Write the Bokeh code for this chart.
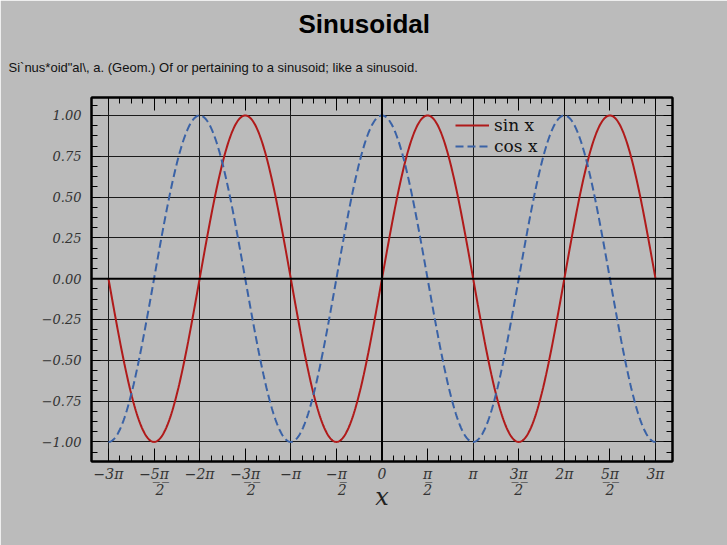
import numpy as np
from bokeh.plotting import figure
from bokeh.models import (FixedTicker, LinearAxis, Span, Title, Legend, LegendItem,
                          Range1d, Grid)
from bokeh.embed import file_html
from bokeh.resources import INLINE

PI = np.pi
U = "\u0332"  # combining low line -> fraction bar under numerator
FS = "\u2007\u2009"  # spacer to align denominator under numerator when a minus leads

# ---- data ----
x = np.linspace(-3 * PI, 3 * PI, 721)
sin_y = np.sin(x)
cos_y = np.cos(x)

x_tick_values = [k * PI / 2 for k in range(-6, 7)]
x_tick_labels = ["\u22123\u03c0",
                 "\u22125" + U + "\u03c0" + U + "\n" + FS + "2",
                 "\u22122\u03c0",
                 "\u22123" + U + "\u03c0" + U + "\n" + FS + "2",
                 "\u2212\u03c0",
                 "\u2212\u03c0" + U + "\n" + FS + "2",
                 "0",
                 "\u03c0" + U + "\n2",
                 "\u03c0",
                 "3" + U + "\u03c0" + U + "\n2",
                 "2\u03c0",
                 "5" + U + "\u03c0" + U + "\n2",
                 "3\u03c0"]
x_grid_values = [k * PI for k in range(-3, 4)]
x_minor_values = [k * PI / 8 for k in range(-24, 25)]

y_tick_values = [-1.0, -0.75, -0.5, -0.25, 0.0, 0.25, 0.5, 0.75, 1.0]
y_tick_labels = ["\u22121.00", "\u22120.75", "\u22120.50", "\u22120.25", "0.00",
                 "0.25", "0.50", "0.75", "1.00"]
y_minor_values = [k * 0.0625 for k in range(-17, 18)]

title_text = "Sinusoidal"
subtitle_text = "Si`nus*oid\"al\\, a. (Geom.) Of or pertaining to a sinusoid; like a sinusoid."
series_names = ["sin x", "cos x"]

BG = "#bbbbbb"
RED = "#b01a1a"
BLUE = "#3a62a6"

p = figure(width=727, height=545, output_backend="svg", toolbar_location=None,
           x_range=Range1d(-10.01, 10.01), y_range=Range1d(-1.12, 1.11),
           x_axis_type=None, y_axis_type=None, title=None,
           min_border_left=91, min_border_right=55, min_border_top=97, min_border_bottom=84,
           background_fill_color=BG, border_fill_color=BG)
p.outline_line_color = "black"
p.outline_line_width = 2

xt = FixedTicker(ticks=x_tick_values, minor_ticks=x_minor_values)
yt = FixedTicker(ticks=y_tick_values, minor_ticks=y_minor_values)

serif = "DejaVu Serif"

def style_axis(ax, major_len, labels=True):
    ax.axis_line_color = "black"
    ax.axis_line_width = 2
    ax.major_tick_in = major_len
    ax.major_tick_out = 0
    ax.minor_tick_in = 6
    ax.minor_tick_out = 0
    ax.major_tick_line_color = "black"
    ax.minor_tick_line_color = "black"
    ax.major_tick_line_width = 1
    ax.minor_tick_line_width = 1
    ax.major_label_text_font = serif
    ax.major_label_text_font_style = "italic"
    ax.major_label_text_font_size = "13px"
    ax.major_label_text_color = "#333333"
    if not labels:
        ax.major_label_text_font_size = "1px"
        ax.major_label_text_color = None
        ax.major_label_standoff = 0

bottom = LinearAxis(ticker=xt)
bottom.major_label_overrides = {v: t for v, t in zip(x_tick_values, x_tick_labels)}
style_axis(bottom, 13)
bottom.major_label_text_font_size = "14px"
bottom.major_label_text_line_height = 1.05
bottom.major_label_standoff = 4
bottom.axis_label = "x"
bottom.axis_label_text_font = serif
bottom.axis_label_text_font_style = "italic"
bottom.axis_label_text_font_size = "24px"
bottom.axis_label_text_color = "#222222"
bottom.axis_label_standoff = -18
p.add_layout(bottom, "below")

top = LinearAxis(ticker=xt)
style_axis(top, 13, labels=False)
p.add_layout(top, "above")

left = LinearAxis(ticker=yt)
left.major_label_overrides = {v: t for v, t in zip(y_tick_values, y_tick_labels)}
style_axis(left, 9)
left.major_label_standoff = 10
p.add_layout(left, "left")

right = LinearAxis(ticker=yt)
style_axis(right, 9, labels=False)
p.add_layout(right, "right")

p.xgrid.visible = False
p.ygrid.visible = False
p.add_layout(Grid(dimension=0, ticker=FixedTicker(ticks=x_grid_values),
                  grid_line_color="#1a1a1a", grid_line_width=1))
p.add_layout(Grid(dimension=1, ticker=FixedTicker(ticks=y_tick_values),
                  grid_line_color="#1a1a1a", grid_line_width=1))
p.add_layout(Span(location=0, dimension="width", line_color="black", line_width=2))
p.add_layout(Span(location=0, dimension="height", line_color="black", line_width=2))

r_sin = p.line(x, sin_y, line_color=RED, line_width=2)
r_cos = p.line(x, cos_y, line_color=BLUE, line_width=2, line_dash="8 4")

legend = Legend(items=[LegendItem(label=series_names[0], renderers=[r_sin]),
                       LegendItem(label=series_names[1], renderers=[r_cos])],
                location=(360, 301), background_fill_alpha=0, border_line_alpha=0,
                label_text_font=serif, label_text_font_size="17px",
                label_text_color="#111111", glyph_width=34, label_height=18,
                glyph_height=18, spacing=1, padding=4)
p.add_layout(legend, "center")

sub = Title(text=subtitle_text, align="left", offset=-83, text_font="Liberation Sans",
            text_font_size="13px", text_font_style="normal", text_color="#111111",
            standoff=26, padding=(0, 0, 0, 10))
p.add_layout(sub, "above")
main = Title(text=title_text, align="left", offset=207, text_font="Liberation Sans",
             text_font_size="26px", text_font_style="bold", text_color="black",
             standoff=11)
p.add_layout(main, "above")

open("out.html", "w").write(file_html(p, INLINE))
